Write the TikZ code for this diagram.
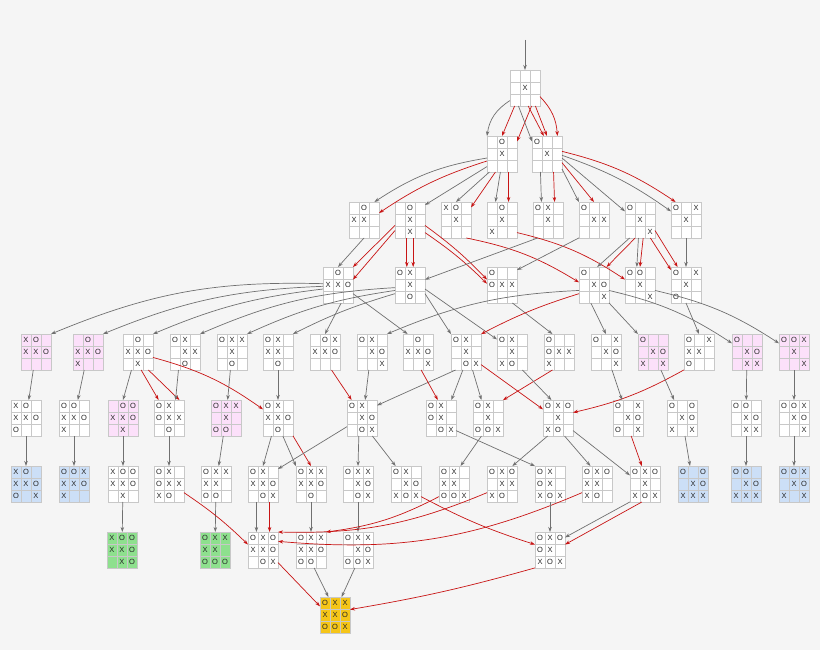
\documentclass[tikz,border=0pt]{standalone}
\usepackage{fontspec}
\setmainfont{Liberation Sans}
\usetikzlibrary{arrows.meta}
\definecolor{bg}{HTML}{F5F5F5}
\definecolor{gcol}{HTML}{707070}
\definecolor{rcol}{HTML}{C81414}
\definecolor{glc}{HTML}{C8C8C8}
\definecolor{pk}{HTML}{FCE0FA}
\definecolor{bl}{HTML}{CCDFF7}
\definecolor{gr}{HTML}{8EE08E}
\definecolor{gd}{HTML}{F5C518}
\newcommand\cellX{X}\newcommand\cellO{O}\newcommand\cellN{}
\newcommand\brd[5]{%
 \node[bx,fill=#4] (#1) at (#2,-#3) {};
 \draw[gl] ({#2-5},{-#3+18}) -- ++(0,-36) ({#2+5},{-#3+18}) -- ++(0,-36)
   ({#2-15},{-#3+6}) -- ++(30,0) ({#2-15},{-#3-6}) -- ++(30,0);
 \foreach \v [count=\i from 0] in {#5} {%
   \pgfmathtruncatemacro\rr{\i/3}\pgfmathtruncatemacro\cc{mod(\i,3)}%
   \node[lt] at ({#2-10+10*\cc},{-#3+12-12*\rr}) {\csname cell\v\endcsname};}}
\begin{document}
\begin{tikzpicture}[x=1pt,y=1pt,
  bx/.style={draw=glc,line width=0.6pt,minimum width=30pt,minimum height=36pt,inner sep=0,outer sep=0},
  gl/.style={draw=glc,line width=0.6pt},
  lt/.style={inner sep=0,font=\fontsize{7.5}{8}\selectfont,text=black!85},
  ge/.style={draw=gcol,line width=0.7pt,-{Stealth[length=5pt,width=3.5pt]}},
  re/.style={draw=rcol,line width=0.7pt,-{Stealth[length=5pt,width=3.5pt]}}]
\fill[bg] (0,0) rectangle (820,-650);
\useasboundingbox (0,0) rectangle (820,-650);
\def\W{white}
\brd{root}{525}{88}{\W}{N,N,N,N,X,N,N,N,N}
\brd{A1}{502}{154}{\W}{N,O,N,N,X,N,N,N,N}
\brd{B1}{547}{154}{\W}{O,N,N,N,X,N,N,N,N}
\brd{C1}{364}{220}{\W}{N,O,N,X,X,N,N,N,N}
\brd{C2}{410}{220}{\W}{N,O,N,N,X,N,N,X,N}
\brd{C3}{456}{220}{\W}{X,O,N,N,X,N,N,N,N}
\brd{C4}{502}{220}{\W}{N,O,N,N,X,N,X,N,N}
\brd{C5}{548}{220}{\W}{O,X,N,N,X,N,N,N,N}
\brd{C6}{594}{220}{\W}{O,N,N,N,X,X,N,N,N}
\brd{C7}{640}{220}{\W}{O,N,N,N,X,N,N,N,X}
\brd{C8}{686}{220}{\W}{O,N,X,N,X,N,N,N,N}
\brd{D1}{338}{285}{\W}{N,O,N,X,X,O,N,N,N}
\brd{D2}{410}{285}{\W}{O,X,N,N,X,N,N,O,N}
\brd{D3}{502}{285}{\W}{O,N,N,O,X,X,N,N,N}
\brd{D4}{594}{285}{\W}{O,N,N,N,X,O,N,N,X}
\brd{D5}{640}{285}{\W}{O,O,N,N,X,N,N,N,X}
\brd{D6}{686}{285}{\W}{O,N,X,N,X,N,O,N,N}
\brd{E1}{36}{352}{pk}{X,O,N,X,X,O,N,N,N}
\brd{E2}{88}{352}{pk}{N,O,N,X,X,O,X,N,N}
\brd{E3}{138}{352}{\W}{N,O,N,X,X,O,N,X,N}
\brd{E4}{185}{352}{\W}{O,X,N,N,X,X,N,O,N}
\brd{E5}{232}{352}{\W}{O,X,X,N,X,N,N,O,N}
\brd{E6}{278}{352}{\W}{O,X,N,X,X,N,N,O,N}
\brd{E7}{325}{352}{\W}{N,O,X,X,X,O,N,N,N}
\brd{E8}{372}{352}{\W}{O,X,N,N,X,O,N,N,X}
\brd{E9}{418}{352}{\W}{N,O,N,X,X,O,N,N,X}
\brd{E10}{466}{352}{\W}{O,X,N,N,X,N,N,O,X}
\brd{E11}{512}{352}{\W}{O,X,N,N,X,N,X,O,N}
\brd{E12}{559}{352}{\W}{O,N,N,O,X,X,X,N,N}
\brd{E13}{606}{352}{\W}{O,N,X,N,X,O,N,N,X}
\brd{E14}{653}{352}{pk}{O,N,N,N,X,O,X,N,X}
\brd{E15}{699}{352}{\W}{O,N,X,X,X,N,O,N,N}
\brd{E16}{747}{352}{pk}{O,N,N,N,X,O,N,X,X}
\brd{E17}{794}{352}{pk}{O,O,X,N,X,N,N,N,X}
\brd{F1}{26}{418}{\W}{X,O,N,X,X,O,O,N,N}
\brd{F2}{74}{418}{\W}{O,O,N,X,X,O,X,N,N}
\brd{F3}{123}{418}{pk}{N,O,O,X,X,O,N,X,N}
\brd{F4}{169}{418}{\W}{O,X,N,O,X,X,N,O,N}
\brd{F5}{226}{418}{pk}{O,X,X,N,X,N,O,O,N}
\brd{F6}{278}{418}{\W}{O,X,N,X,X,O,N,O,N}
\brd{F7}{362}{418}{\W}{O,X,N,N,X,O,N,O,X}
\brd{F8}{441}{418}{\W}{O,X,N,O,X,N,N,O,X}
\brd{F9}{488}{418}{\W}{O,X,N,N,X,N,O,O,X}
\brd{F10}{558}{418}{\W}{O,X,O,N,X,N,X,O,N}
\brd{F11}{628}{418}{\W}{O,N,X,N,X,O,O,N,X}
\brd{F12}{682}{418}{\W}{O,N,O,N,X,O,X,N,X}
\brd{F13}{746}{418}{\W}{O,O,N,N,X,O,N,X,X}
\brd{F14}{794}{418}{\W}{O,O,X,N,X,O,N,N,X}
\brd{G1}{26}{484}{bl}{X,O,N,X,X,O,O,N,X}
\brd{G2}{74}{484}{bl}{O,O,X,X,X,O,X,N,N}
\brd{G3}{123}{484}{\W}{X,O,O,X,X,O,N,X,N}
\brd{G4}{169}{484}{\W}{O,X,N,O,X,X,X,O,N}
\brd{G5}{216}{484}{\W}{O,X,X,X,X,N,O,O,N}
\brd{G6}{263}{484}{\W}{O,X,N,X,X,O,N,O,X}
\brd{G7}{311}{484}{\W}{O,X,X,X,X,O,N,O,N}
\brd{G8}{358}{484}{\W}{O,X,X,N,X,O,N,O,X}
\brd{G9}{406}{484}{\W}{O,X,N,N,X,O,X,O,X}
\brd{G10}{454}{484}{\W}{O,X,N,X,X,N,O,O,X}
\brd{G11}{502}{484}{\W}{O,X,O,N,X,X,X,O,N}
\brd{G12}{550}{484}{\W}{O,X,N,O,X,N,X,O,X}
\brd{G13}{597}{484}{\W}{O,X,O,X,X,N,X,O,N}
\brd{G14}{645}{484}{\W}{O,X,O,N,X,N,X,O,X}
\brd{G15}{693}{484}{bl}{O,N,O,N,X,O,X,X,X}
\brd{G16}{746}{484}{bl}{O,O,N,N,X,O,X,X,X}
\brd{G17}{794}{484}{bl}{O,O,X,N,X,O,X,N,X}
\brd{H1}{122}{550}{gr}{X,O,O,X,X,O,N,X,O}
\brd{H2}{215}{550}{gr}{O,X,X,X,X,N,O,O,O}
\brd{H3}{263}{550}{\W}{O,X,O,X,X,O,N,O,X}
\brd{H4}{311}{550}{\W}{O,X,X,X,X,O,O,O,N}
\brd{H5}{358}{550}{\W}{O,X,X,N,X,O,O,O,X}
\brd{H6}{550}{550}{\W}{O,X,O,O,X,N,X,O,X}
\brd{I1}{335}{615}{gd}{O,X,X,X,X,O,O,O,X}
\coordinate (top) at (525,-40);
\draw[ge] (top) -- (root);
% root
\draw[ge] (root.-140) to[bend right=25] (A1.130);
\draw[re] (root.-120) -- (A1.north);
\draw[re] (root.-70) -- (A1.40);
\draw[ge] (root.-110) -- (B1.140);
\draw[re] (root.-80) -- (B1.100);
\draw[re] (root.-60) -- (B1.north);
\draw[re] (root.-30) to[bend left=20] (B1.60);
% level1
\draw[ge] (A1.195) to[bend right=12] (C1.60);
\draw[re] (A1.205) to[bend right=8] (C1.25);
\draw[ge] (A1.220) -- (C2.45);
\draw[ge] (A1.235) -- (C3.north);
\draw[re] (A1.250) -- (C3.40);
\draw[ge] (A1.265) -- (C4.110);
\draw[re] (A1.-70) -- (C4.70);
\draw[ge] (B1.-110) -- (C5.110);
\draw[re] (B1.-70) -- (C5.70);
\draw[ge] (B1.-45) -- (C6.130);
\draw[re] (B1.-30) -- (C6.north);
\draw[ge] (B1.-15) -- (C7.150);
\draw[ge] (B1.-5) to[bend left=8] (C8.150);
\draw[re] (B1.10) to[bend left=10] (C8.120);
% level2
\draw[ge] (C1.south) -- (D1.north);
\draw[re] (C2.200) -- (D1.north east);
\draw[re] (C2.215) -- (D1.20);
\draw[re] (C2.-100) -- (D2.100);
\draw[re] (C2.-80) -- (D2.80);
\draw[re] (C2.-20) to[bend left=5] (D3.160);
\draw[re] (C2.-40) to[bend left=5] (D3.175);
\draw[re] (C3.-60) to[bend left=10] (D4.170);
\draw[re] (C4.-40) to[bend left=10] (D5.160);
\draw[ge] (C5.-120) -- (D2.20);
\draw[ge] (C6.-130) -- (D3.45);
\draw[ge] (C7.-120) -- (D4.80);
\draw[re] (C7.-105) -- (D4.55);
\draw[ge] (C7.-95) -- (D5.100);
\draw[re] (C7.-80) -- (D5.north);
\draw[re] (C7.-60) -- (D6.135);
\draw[re] (C7.-35) -- (D6.115);
\draw[ge] (C8.south) -- (D6.north);
% level3
\draw[ge] (D1.175) to[bend right=12] (E1.north east);
\draw[ge] (D1.185) to[bend right=10] (E2.north east);
\draw[ge] (D1.195) to[bend right=8] (E3.north east);
\draw[ge] (D1.-80) -- (E7.north);
\draw[ge] (D1.-30) -- (E9.120);
\draw[ge] (D2.190) to[bend right=10] (E4.north east);
\draw[ge] (D2.200) to[bend right=8] (E5.north east);
\draw[ge] (D2.210) to[bend right=5] (E6.north east);
\draw[ge] (D2.-30) -- (E10.130);
\draw[ge] (D2.-15) -- (E11.140);
\draw[ge] (D3.-60) -- (E12.110);
\draw[ge] (D4.200) to[bend right=10] (E8.north east);
\draw[re] (D4.210) to[bend right=5] (E10.50);
\draw[ge] (D4.-100) -- (E13.north);
\draw[ge] (D4.-50) -- (E14.130);
\draw[ge] (D4.-20) to[bend left=10] (E16.150);
\draw[ge] (D5.-20) to[bend left=10] (E17.150);
\draw[ge] (D6.-90) -- (E15.north);
% level4
\draw[ge] (E1) -- (F1);
\draw[ge] (E2) -- (F2);
\draw[ge] (E3.-110) -- (F3.north);
\draw[re] (E3.-80) -- (F4.120);
\draw[re] (E3.-60) -- (F4.60);
\draw[re] (E3.-20) to[bend left=10] (F6.150);
\draw[ge] (E4.-110) -- (F4.70);
\draw[ge] (E5) -- (F5);
\draw[ge] (E6) -- (F6);
\draw[re] (E7.-70) -- (F7.120);
\draw[ge] (E8.-100) -- (F7.80);
\draw[ge] (E10.-120) -- (F7.40);
\draw[re] (E9.-80) -- (F8.100);
\draw[ge] (E10.-100) -- (F8.60);
\draw[ge] (E10.-70) -- (F9.110);
\draw[re] (E12.-110) -- (F9.50);
\draw[re] (E10.-40) -- (F10.150);
\draw[ge] (E11.-60) -- (F10.110);
\draw[re] (E15.-130) to[bend left=8] (F10.20);
\draw[ge] (E13) -- (F11);
\draw[ge] (E14) -- (F12);
\draw[ge] (E16) -- (F13);
\draw[ge] (E17) -- (F14);
% level5
\draw[ge] (F1) -- (G1);
\draw[ge] (F2) -- (G2);
\draw[ge] (F3) -- (G3);
\draw[ge] (F4) -- (G4);
\draw[ge] (F5) -- (G5);
\draw[ge] (F6.-110) -- (G6.north);
\draw[ge] (F6.-75) -- (G7.130);
\draw[re] (F6.-50) -- (G7.90);
\draw[ge] (F7.-150) -- (G6.45);
\draw[ge] (F7.-100) -- (G8.north);
\draw[ge] (F7.-60) -- (G9.120);
\draw[ge] (F8.-40) -- (G12.130);
\draw[ge] (F9.-110) -- (G10.70);
\draw[ge] (F10.-120) -- (G11.60);
\draw[ge] (F10.-70) -- (G13.110);
\draw[ge] (F10.-40) -- (G14.150);
\draw[re] (F11.-80) -- (G14.100);
\draw[ge] (F12) -- (G15);
\draw[ge] (F13) -- (G16);
\draw[ge] (F14) -- (G17);
% level6
\draw[ge] (G3) -- (H1);
\draw[ge] (G5) -- (H2);
\draw[re] (G4.-30) to[bend left=5] (H3.160);
\draw[ge] (G6.-110) -- (H3.110);
\draw[re] (G6.-70) -- (H3.70);
\draw[ge] (G7) -- (H4);
\draw[ge] (G8) -- (H5);
\draw[re] (G10.-140) to[bend left=10] (H4.north east);
\draw[re] (G11.-150) to[bend left=12] (H3.north east);
\draw[re] (G13.-150) to[bend left=14] (H3.30);
\draw[re] (G9.-40) to[bend right=5] (H6.160);
\draw[ge] (G12.south) -- (H6.north);
\draw[ge] (G14.-130) -- (H6.40);
\draw[re] (G14.-100) -- (H6.20);
% level7
\draw[re] (H3.-40) -- (I1.150);
\draw[ge] (H4.-80) -- (I1.110);
\draw[ge] (H5.-100) -- (I1.70);
\draw[re] (H6.-130) to[bend left=3] (I1.20);
\end{tikzpicture}
\end{document}
